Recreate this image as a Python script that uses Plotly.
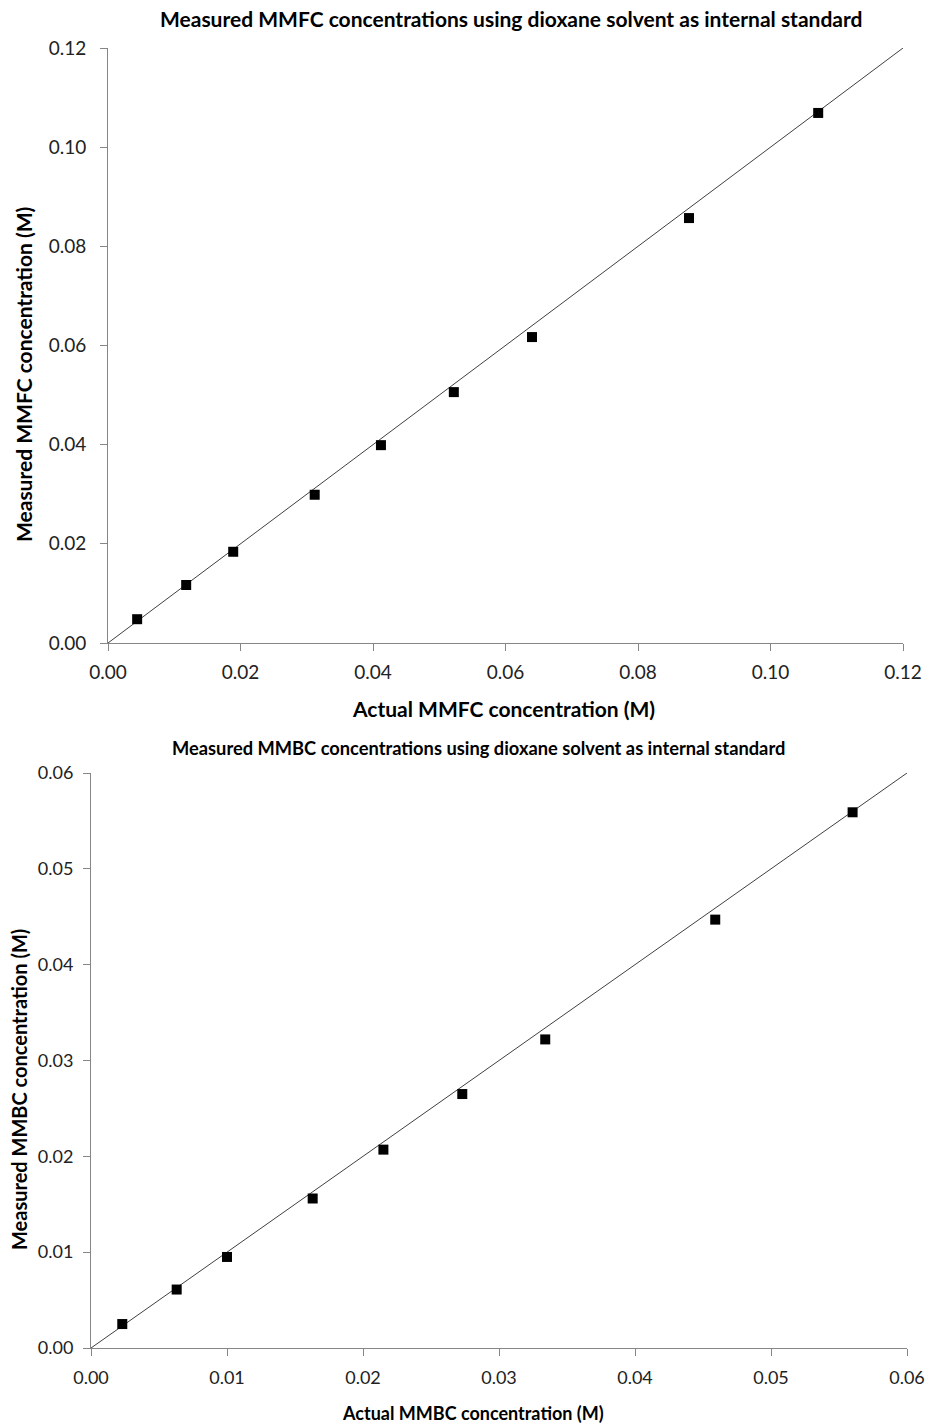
import plotly.graph_objects as go

W, H = 930, 1427

# Top chart data (MMFC)
mmfc_actual = [0.0044, 0.0118, 0.0189, 0.0312, 0.0412, 0.0522, 0.0640, 0.0877, 0.1072]
mmfc_measured = [0.0048, 0.0117, 0.0184, 0.0299, 0.0399, 0.0506, 0.0617, 0.0857, 0.1069]
mmfc_line = [0.0, 0.12]
mmfc_ticks = [0.00, 0.02, 0.04, 0.06, 0.08, 0.10, 0.12]

# Bottom chart data (MMBC)
mmbc_actual = [0.0023, 0.0063, 0.0100, 0.0163, 0.0215, 0.0273, 0.0334, 0.0459, 0.0560]
mmbc_measured = [0.0025, 0.0061, 0.0095, 0.0156, 0.0207, 0.0265, 0.0322, 0.0447, 0.0559]
mmbc_line = [0.0, 0.06]
mmbc_ticks = [0.00, 0.01, 0.02, 0.03, 0.04, 0.05, 0.06]

FONT = "Lato"
AX = "#868686"

fig = go.Figure()

fig.add_trace(go.Scatter(x=mmfc_line, y=mmfc_line, mode="lines",
                         line=dict(color="#404040", width=1), xaxis="x", yaxis="y",
                         showlegend=False, hoverinfo="skip"))
fig.add_trace(go.Scatter(x=mmfc_actual, y=mmfc_measured, mode="markers",
                         marker=dict(symbol="square", size=10, color="black"),
                         xaxis="x", yaxis="y", showlegend=False))
fig.add_trace(go.Scatter(x=mmbc_line, y=mmbc_line, mode="lines",
                         line=dict(color="#404040", width=1), xaxis="x2", yaxis="y2",
                         showlegend=False, hoverinfo="skip"))
fig.add_trace(go.Scatter(x=mmbc_actual, y=mmbc_measured, mode="markers",
                         marker=dict(symbol="square", size=10, color="black"),
                         xaxis="x2", yaxis="y2", showlegend=False))

def px_x(p):
    return p / W

def px_y(p):
    return 1 - p / H

def axis(domain, rng, ticks, anchor, size, standoff):
    return dict(domain=domain, range=rng, tickvals=ticks,
                ticktext=[f"{t:.2f}" for t in ticks],
                showgrid=False, zeroline=False, showline=True, linecolor=AX, linewidth=1,
                ticks="outside", ticklen=7, tickcolor=AX, tickwidth=1, automargin=False,
                ticklabelstandoff=standoff,
                tickfont=dict(family=FONT, size=size, color="#222222"), anchor=anchor)

fig.update_layout(
    width=W, height=H, margin=dict(l=0, r=0, t=0, b=0), autosize=False,
    paper_bgcolor="white", plot_bgcolor="white",
    xaxis=axis([px_x(108), px_x(903)], [0, 0.12], mmfc_ticks, "y", 19, 5),
    yaxis=axis([px_y(643), px_y(48)], [0, 0.12], mmfc_ticks, "x", 19, 10),
    xaxis2=axis([px_x(91), px_x(907)], [0, 0.06], mmbc_ticks, "y2", 18, 6),
    yaxis2=axis([px_y(1348), px_y(773)], [0, 0.06], mmbc_ticks, "x2", 18, 6),
)

def ann(text, x, y, size, angle=0):
    fig.add_annotation(text=f"<b>{text}</b>", x=px_x(x), y=px_y(y), xref="paper", yref="paper",
                       showarrow=False, textangle=angle, xanchor="center", yanchor="middle",
                       font=dict(family=FONT, size=size, color="black"))

ann("Measured MMFC concentrations using dioxane solvent as internal standard", 511, 18, 21)
ann("Actual MMFC concentration (M)", 503, 708, 21)
ann("Measured MMFC concentration (M)", 24, 375, 21, -90)
ann("Measured MMBC concentrations using dioxane solvent as internal standard", 478, 748, 18.3)
ann("Actual MMBC concentration (M)", 473, 1413, 18)
ann("Measured MMBC concentration (M)", 19, 1090, 20, -90)

fig.write_html("out.html", config={"displayModeBar": False},
               post_script="document.body.style.margin='0';document.body.style.overflow='hidden';")
